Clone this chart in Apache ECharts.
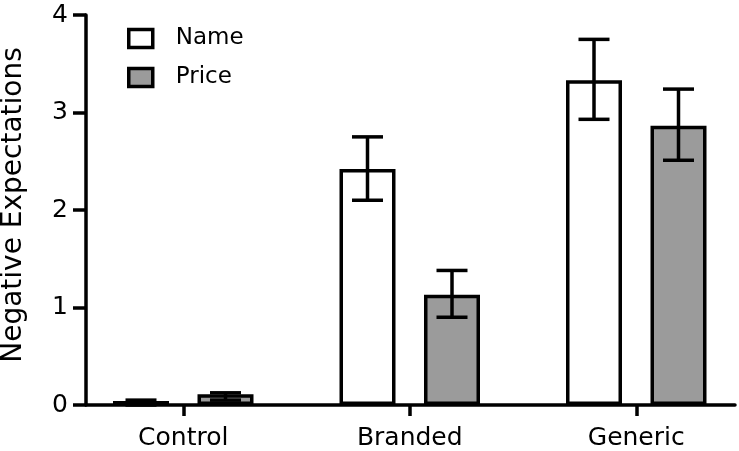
<!DOCTYPE html>
<html>
<head>
<meta charset="utf-8">
<script src="https://cdn.jsdelivr.net/npm/echarts@6/dist/echarts.min.js"></script>
<style>
html,body{margin:0;padding:0;background:#fff;}
#chart{width:739px;height:451px;}
</style>
</head>
<body>
<div id="chart"></div>
<script>
const categories = ['Control', 'Branded', 'Generic'];
const nameMean = [0.04, 2.42, 3.33];
const nameLow = [0.0, 2.10, 2.93];
const nameHigh = [0.05, 2.75, 3.75];
const priceMean = [0.11, 1.13, 2.865];
const priceLow = [0.05, 0.90, 2.51];
const priceHigh = [0.125, 1.38, 3.24];
const yTicks = [0, 1, 2, 3, 4];

const FONT = 'DejaVu Sans';
const LW = 3.5;
const BAR_W = 56;
const BAR_GAP = 28.5;
const OFFSET = (BAR_W + BAR_GAP) / 2;
const CAP = 31;

function errData(low, high) {
  return categories.map((c, i) => [i, low[i], high[i]]);
}
function errRender(offset) {
  return function (params, api) {
    const i = api.value(0);
    const lo = api.coord([i, api.value(1)]);
    const hi = api.coord([i, api.value(2)]);
    const x = lo[0] + offset;
    const st = { stroke: '#000', lineWidth: LW, fill: null };
    return {
      type: 'group',
      children: [
        { type: 'line', shape: { x1: x, y1: lo[1], x2: x, y2: hi[1] }, style: st },
        { type: 'line', shape: { x1: x - CAP / 2, y1: lo[1], x2: x + CAP / 2, y2: lo[1] }, style: st },
        { type: 'line', shape: { x1: x - CAP / 2, y1: hi[1], x2: x + CAP / 2, y2: hi[1] }, style: st }
      ]
    };
  };
}

const chart = echarts.init(document.getElementById('chart'), null, { renderer: 'canvas' });
chart.setOption({
  animation: false,
  backgroundColor: '#fff',
  textStyle: { fontFamily: FONT },
  grid: [
    { left: 70, width: 679.5, top: 15, bottom: 46, outerBoundsMode: 'none', containLabel: false },
    { left: 86, right: 4, top: 15, bottom: 46, outerBoundsMode: 'none', containLabel: false }
  ],
  legend: {
    orient: 'vertical',
    left: 127,
    top: 27,
    padding: 0,
    itemWidth: 24,
    itemHeight: 18,
    itemGap: 16,
    icon: 'rect',
    data: ['Name', 'Price'],
    itemStyle: { borderColor: '#000', borderWidth: LW },
    textStyle: { fontFamily: FONT, fontSize: 23, color: '#000', padding: [0, 0, 0, 18] }
  },
  xAxis: [
    {
      type: 'category', gridIndex: 0, data: categories,
      axisLine: { show: false },
      axisTick: { show: true, alignWithLabel: true, length: 11, lineStyle: { color: '#000', width: LW } },
      axisLabel: { fontFamily: FONT, fontSize: 25, color: '#000', margin: 21 }
    },
    {
      type: 'value', gridIndex: 1, min: 0, max: 1,
      axisLine: { show: true, onZero: false, lineStyle: { color: '#000', width: LW } },
      axisTick: { show: false }, axisLabel: { show: false }, splitLine: { show: false }
    }
  ],
  yAxis: [
    { type: 'value', gridIndex: 0, min: 0, max: 4, show: false },
    {
      type: 'value', gridIndex: 1, min: yTicks[0], max: yTicks[yTicks.length - 1], interval: 1,
      name: 'Negative Expectations', nameLocation: 'middle', nameGap: 58,
      nameTextStyle: { fontFamily: FONT, fontSize: 28, color: '#000', padding: [0, 0, 0, 10] },
      axisLine: { show: true, lineStyle: { color: '#000', width: LW } },
      axisTick: { show: true, length: 13, lineStyle: { color: '#000', width: LW } },
      axisLabel: { fontFamily: FONT, fontSize: 25, color: '#000', margin: 18 },
      splitLine: { show: false }
    }
  ],
  series: [
    {
      name: 'Name', type: 'bar', xAxisIndex: 0, yAxisIndex: 0, data: nameMean,
      barWidth: BAR_W, barGap: (BAR_GAP / BAR_W * 100) + '%',
      itemStyle: { color: '#fff', borderColor: '#000', borderWidth: LW }
    },
    {
      name: 'Price', type: 'bar', xAxisIndex: 0, yAxisIndex: 0, data: priceMean,
      barWidth: BAR_W,
      itemStyle: { color: '#9b9b9b', borderColor: '#000', borderWidth: LW }
    },
    {
      type: 'custom', xAxisIndex: 0, yAxisIndex: 0, z: 5,
      renderItem: errRender(-OFFSET), data: errData(nameLow, nameHigh),
      encode: { x: 0, y: [1, 2] }, silent: true
    },
    {
      type: 'custom', xAxisIndex: 0, yAxisIndex: 0, z: 5,
      renderItem: errRender(OFFSET), data: errData(priceLow, priceHigh),
      encode: { x: 0, y: [1, 2] }, silent: true
    }
  ]
});
</script>
</body>
</html>
